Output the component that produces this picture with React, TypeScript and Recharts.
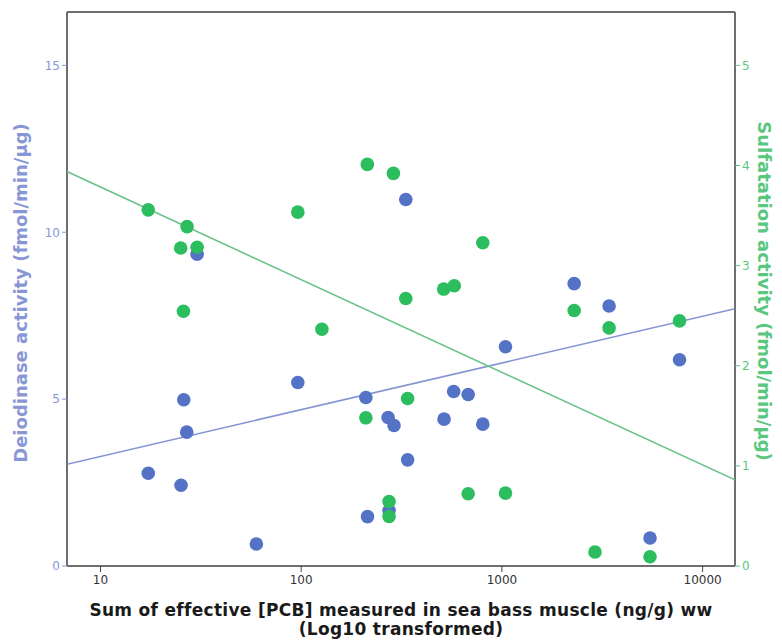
import React from 'react';
import { ScatterChart, Scatter, XAxis, YAxis, ReferenceLine } from 'recharts';

// PCB sum (ng/g ww) and deiodinase activity (fmol/min/µg)
const deioPcb = [17.3, 25.2, 26.0, 26.9, 30.3, 59.8, 96.2, 210, 214, 271, 274, 290, 332, 339, 515, 575, 679, 803, 1042, 2291, 3420, 5470, 7670];
const deioVal = [2.78, 2.42, 4.98, 4.01, 9.34, 0.66, 5.5, 5.05, 1.48, 4.45, 1.66, 4.21, 10.98, 3.18, 4.4, 5.23, 5.14, 4.25, 6.57, 8.46, 7.79, 0.84, 6.18];

// PCB sum (ng/g ww) and sulfatation activity (fmol/min/µg)
const sulfPcb = [17.3, 27.0, 25.1, 30.3, 25.9, 96.2, 126.8, 213.6, 288, 803, 513, 579, 332, 2291, 3420, 7670, 339, 210, 679, 1042, 274, 274, 2910, 5470];
const sulfVal = [3.557, 3.39, 3.176, 3.183, 2.545, 3.534, 2.365, 4.011, 3.922, 3.229, 2.766, 2.799, 2.672, 2.552, 2.378, 2.448, 1.673, 1.48, 0.721, 0.728, 0.644, 0.494, 0.14, 0.093];

// fit lines (endpoints at the axis range)
const fitPcb = [6.81, 14500];
const deioFit = [3.05, 7.71];
const sulfFit = [3.94, 0.86];

const xTicks = [10, 100, 1000, 10000];
const leftTicks = [0, 5, 10, 15];
const rightTicks = [0, 1, 2, 3, 4, 5];

const xDomain = [6.81, 14500];
const leftDomain = [0, 16.6];
const rightDomain = [0, 16.6 / 3];

const BLUE = '#5573c6';
const GREEN = '#2cbd5f';
const BLUE_LINE = '#8594d3';
const GREEN_LINE = '#6cc48c';
const BLUE_TXT = '#8797d6';
const GREEN_TXT = '#5ac77f';
const FRAME = '#6e6e6e';
const FONT = 'DejaVu Sans, sans-serif';

const deioData = deioPcb.map((x, i) => ({ x, d: deioVal[i] }));
const sulfData = sulfPcb.map((x, i) => ({ x, s: sulfVal[i] }));
const deioFitData = fitPcb.map((x, i) => ({ x, d: deioFit[i] }));
const sulfFitData = fitPcb.map((x, i) => ({ x, s: sulfFit[i] }));

const Dot = (color: string) => (props: any) => (
  <circle cx={props.cx} cy={props.cy} r={6.8} fill={color} />
);
const NoDot = () => <g />;

const LeftLabel = (props: any) => {
  const vb = props.viewBox;
  const cx = vb.x + 12;
  const cy = vb.y + vb.height / 2 + 4;
  return (
    <text x={cx} y={cy} transform={`rotate(-90 ${cx} ${cy})`} textAnchor="middle" dominantBaseline="central"
      fill={BLUE_TXT} fontSize={18} fontWeight="bold" fontFamily={FONT}>
      Deiodinase activity (fmol/min/µg)
    </text>
  );
};

const RightLabel = (props: any) => {
  const vb = props.viewBox;
  const cx = vb.x + 29;
  const cy = vb.y + vb.height / 2 + 2;
  return (
    <text x={cx} y={cy} transform={`rotate(90 ${cx} ${cy})`} textAnchor="middle" dominantBaseline="central"
      fill={GREEN_TXT} fontSize={18} fontWeight="bold" fontFamily={FONT}>
      Sulfatation activity (fmol/min/µg)
    </text>
  );
};

const BottomLabel = (props: any) => {
  const vb = props.viewBox;
  const cx = vb.x + vb.width / 2;
  return (
    <text textAnchor="middle" fill="#1a1a1a" fontSize={17} letterSpacing={0.3} fontWeight="bold" fontFamily={FONT}>
      <tspan x={cx} y={vb.y + 50}>Sum of effective [PCB] measured in sea bass muscle (ng/g) ww</tspan>
      <tspan x={cx} y={vb.y + 69}>(Log10 transformed)</tspan>
    </text>
  );
};

export default function App() {
  return (
    <div style={{ width: 774, height: 632, background: '#fff' }}>
      <style>{'html,body{overflow:hidden;}'}</style>
      <ScatterChart width={774} height={632} margin={{ top: 4, right: 0, bottom: 0, left: 0 }}>
        <XAxis
          dataKey="x"
          type="number"
          scale="log"
          domain={xDomain}
          ticks={xTicks}
          allowDataOverflow
          height={74}
          tickSize={6}
          tickMargin={3}
          axisLine={{ stroke: FRAME, strokeWidth: 2 }}
          tickLine={{ stroke: '#444' }}
          tick={{ fill: '#333', fontSize: 12, fontFamily: FONT }}
          label={<BottomLabel />}
        />
        <YAxis
          yAxisId="left"
          dataKey="d"
          type="number"
          domain={leftDomain}
          ticks={leftTicks}
          allowDataOverflow
          width={59}
          tickSize={5}
          tickMargin={2}
          axisLine={{ stroke: FRAME, strokeWidth: 2 }}
          tickLine={{ stroke: BLUE_TXT }}
          tick={{ fill: BLUE_TXT, fontSize: 12, fontFamily: FONT }}
          label={<LeftLabel />}
        />
        <YAxis
          yAxisId="right"
          orientation="right"
          dataKey="s"
          type="number"
          domain={rightDomain}
          ticks={rightTicks}
          allowDataOverflow
          width={47}
          tickSize={5}
          tickMargin={2}
          axisLine={{ stroke: FRAME, strokeWidth: 2 }}
          tickLine={{ stroke: GREEN_TXT }}
          tick={{ fill: GREEN_TXT, fontSize: 12, fontFamily: FONT }}
          label={<RightLabel />}
        />
        <ReferenceLine yAxisId="left" y={leftDomain[1]} stroke={FRAME} strokeWidth={2} />
        <Scatter yAxisId="left" data={deioFitData} dataKey="d" line={{ stroke: BLUE_LINE, strokeWidth: 1.6 }} shape={NoDot} isAnimationActive={false} />
        <Scatter yAxisId="right" data={sulfFitData} dataKey="s" line={{ stroke: GREEN_LINE, strokeWidth: 1.6 }} shape={NoDot} isAnimationActive={false} />
        <Scatter yAxisId="left" data={deioData} dataKey="d" shape={Dot(BLUE)} isAnimationActive={false} />
        <Scatter yAxisId="right" data={sulfData} dataKey="s" shape={Dot(GREEN)} isAnimationActive={false} />
      </ScatterChart>
    </div>
  );
}
